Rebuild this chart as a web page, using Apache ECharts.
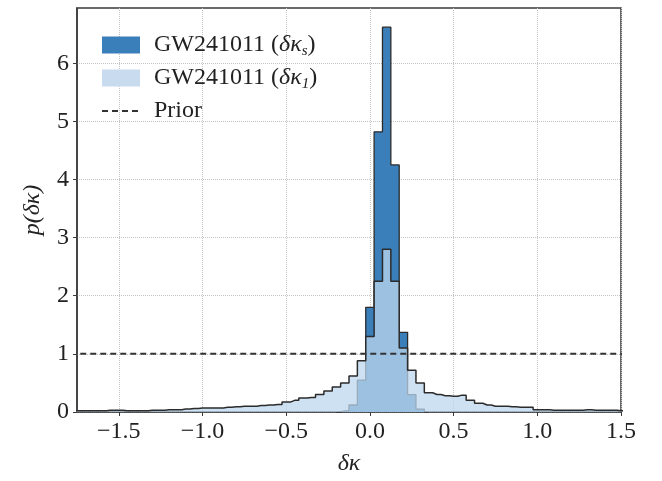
<!DOCTYPE html>
<html>
<head>
<meta charset="utf-8">
<script src="https://cdn.jsdelivr.net/npm/echarts@6/dist/echarts.min.js"></script>
<style>
  html, body { margin: 0; padding: 0; background: #fff; }
  #chart { width: 662px; height: 481px; }
</style>
</head>
<body>
<div id="chart"></div>
<script>
// histogram bins are 0.05 wide, centred on multiples of 0.05
var binWidth = 0.05;

// broad posterior (delta kappa_1), bins centred from -1.80 to 1.55
var lightStart = -1.8;
var lightValues = [
  0.02, 0.02, 0.02, 0.02, 0.02, 0.03, 0.03, 0.02, 0.02, 0.02,
  0.03, 0.03, 0.04, 0.04, 0.05, 0.06, 0.07, 0.07, 0.07, 0.08,
  0.09, 0.10, 0.10, 0.11, 0.12, 0.13, 0.17, 0.20, 0.24, 0.25,
  0.30, 0.36, 0.43, 0.50, 0.62, 0.88,
  1.30, 2.25, 2.80, 2.25, 1.10, 0.72, 0.50, 0.33, 0.30, 0.28,
  0.27, 0.29, 0.20, 0.15, 0.12, 0.10, 0.10, 0.09, 0.08, 0.08,
  0.04, 0.04, 0.03, 0.03, 0.03, 0.03, 0.04, 0.03, 0.03, 0.03,
  0.02, 0.02
];

// narrow posterior (delta kappa_s), bins centred from -0.20 to 0.35
var darkStart = -0.2;
var darkValues = [0, 0.02, 0.12, 0.55, 1.80, 4.82, 6.62, 4.25, 1.37, 0.30, 0.05, 0];

var priorValue = 1;
var xMin = -1.75, xMax = 1.5;
var xTicks = [-1.5, -1.0, -0.5, 0.0, 0.5, 1.0, 1.5];
var yTicks = [0, 1, 2, 3, 4, 5, 6];

var darkName = 'GW241011 (δκs)';
var lightName = 'GW241011 (δκ1)';
var priorName = 'Prior';

function toPoints(start, values) {
  var pts = [];
  for (var i = 0; i < values.length; i++) {
    pts.push([+(start + i * binWidth).toFixed(3), values[i]]);
  }
  return pts;
}

var serif = "'Liberation Serif', 'DejaVu Serif', serif";
var darkBlue = '#3a7fba';
var lightBlue = 'rgba(190,215,238,0.75)';
var edge = '#2b2b2b';
var gridLine = { show: true, lineStyle: { color: '#c4c4c4', type: 'dotted', width: 1 } };

var chart = echarts.init(document.getElementById('chart'));

var option = {
  animation: false,
  backgroundColor: '#fff',
  grid: {
    left: 77, right: 41, top: 8, bottom: 66,
    show: true, borderColor: '#3a3a3a', borderWidth: 1.5
  },
  legend: {
    orient: 'vertical',
    left: 96, top: 28,
    itemWidth: 38, itemHeight: 17,
    itemGap: 7,
    data: [
      { name: darkName, icon: 'rect', itemStyle: { color: darkBlue, borderWidth: 0 } },
      { name: lightName, icon: 'rect', itemStyle: { color: '#c9dcef', borderWidth: 0 } },
      { name: priorName, itemStyle: { color: 'rgba(0,0,0,0)', borderWidth: 0 } }
    ],
    formatter: function (name) {
      if (name === darkName) return '{n|GW241011 (}{i|δκ}{s|s}{n|)}';
      if (name === lightName) return '{n|GW241011 (}{i|δκ}{s|1}{n|)}';
      return '{n|Prior}';
    },
    textStyle: {
      padding: [0, 0, 0, 9],
      rich: {
        n: { fontFamily: serif, fontSize: 24, color: '#222', lineHeight: 28 },
        i: { fontFamily: serif, fontSize: 24, fontStyle: 'italic', color: '#222', lineHeight: 28 },
        s: { fontFamily: serif, fontSize: 15, fontStyle: 'italic', color: '#222', verticalAlign: 'bottom', lineHeight: 22, padding: [7, 0, 0, 0] }
      }
    }
  },
  xAxis: {
    type: 'value',
    min: xMin, max: xMax,
    name: 'δκ',
    nameLocation: 'middle',
    nameGap: 40,
    nameTextStyle: { fontFamily: serif, fontSize: 24, fontStyle: 'italic', color: '#222' },
    axisLine: { show: true, onZero: false, lineStyle: { color: '#3a3a3a', width: 1.5 } },
    axisTick: { show: true, length: 4, customValues: xTicks, lineStyle: { color: '#3a3a3a' } },
    axisLabel: {
      fontFamily: serif, fontSize: 24, color: '#222', margin: 8,
      customValues: xTicks,
      formatter: function (v) {
        return v.toFixed(1).replace('-', '\u2212');
      }
    },
    splitLine: gridLine
  },
  yAxis: {
    type: 'value',
    min: 0, max: 6.95,
    name: 'p(δκ)',
    nameLocation: 'middle',
    nameGap: 32,
    nameTextStyle: { fontFamily: serif, fontSize: 24, fontStyle: 'italic', color: '#222' },
    axisLine: { show: true, onZero: false, lineStyle: { color: '#3a3a3a', width: 1.5 } },
    axisTick: { show: true, length: 4, customValues: yTicks, lineStyle: { color: '#3a3a3a' } },
    axisLabel: {
      fontFamily: serif, fontSize: 24, color: '#222', margin: 8,
      customValues: yTicks
    },
    splitLine: gridLine
  },
  series: [
    {
      name: darkName,
      type: 'line',
      step: 'middle',
      symbol: 'none',
      z: 2,
      color: darkBlue,
      data: toPoints(darkStart, darkValues),
      lineStyle: { color: edge, width: 1.3 },
      areaStyle: { color: darkBlue, opacity: 1 }
    },
    {
      name: lightName,
      type: 'line',
      step: 'middle',
      symbol: 'none',
      z: 3,
      color: '#c9dcef',
      data: toPoints(lightStart, lightValues),
      lineStyle: { color: edge, width: 1.5 },
      areaStyle: { color: lightBlue, opacity: 1 }
    },
    {
      name: priorName,
      type: 'line',
      symbol: 'none',
      z: 4,
      color: '#333',
      data: [[xMin - 0.1, priorValue], [xMax + 0.1, priorValue]],
      lineStyle: { color: '#333', width: 2, type: [6, 4] }
    }
  ]
};

chart.setOption(option);
</script>
</body>
</html>
